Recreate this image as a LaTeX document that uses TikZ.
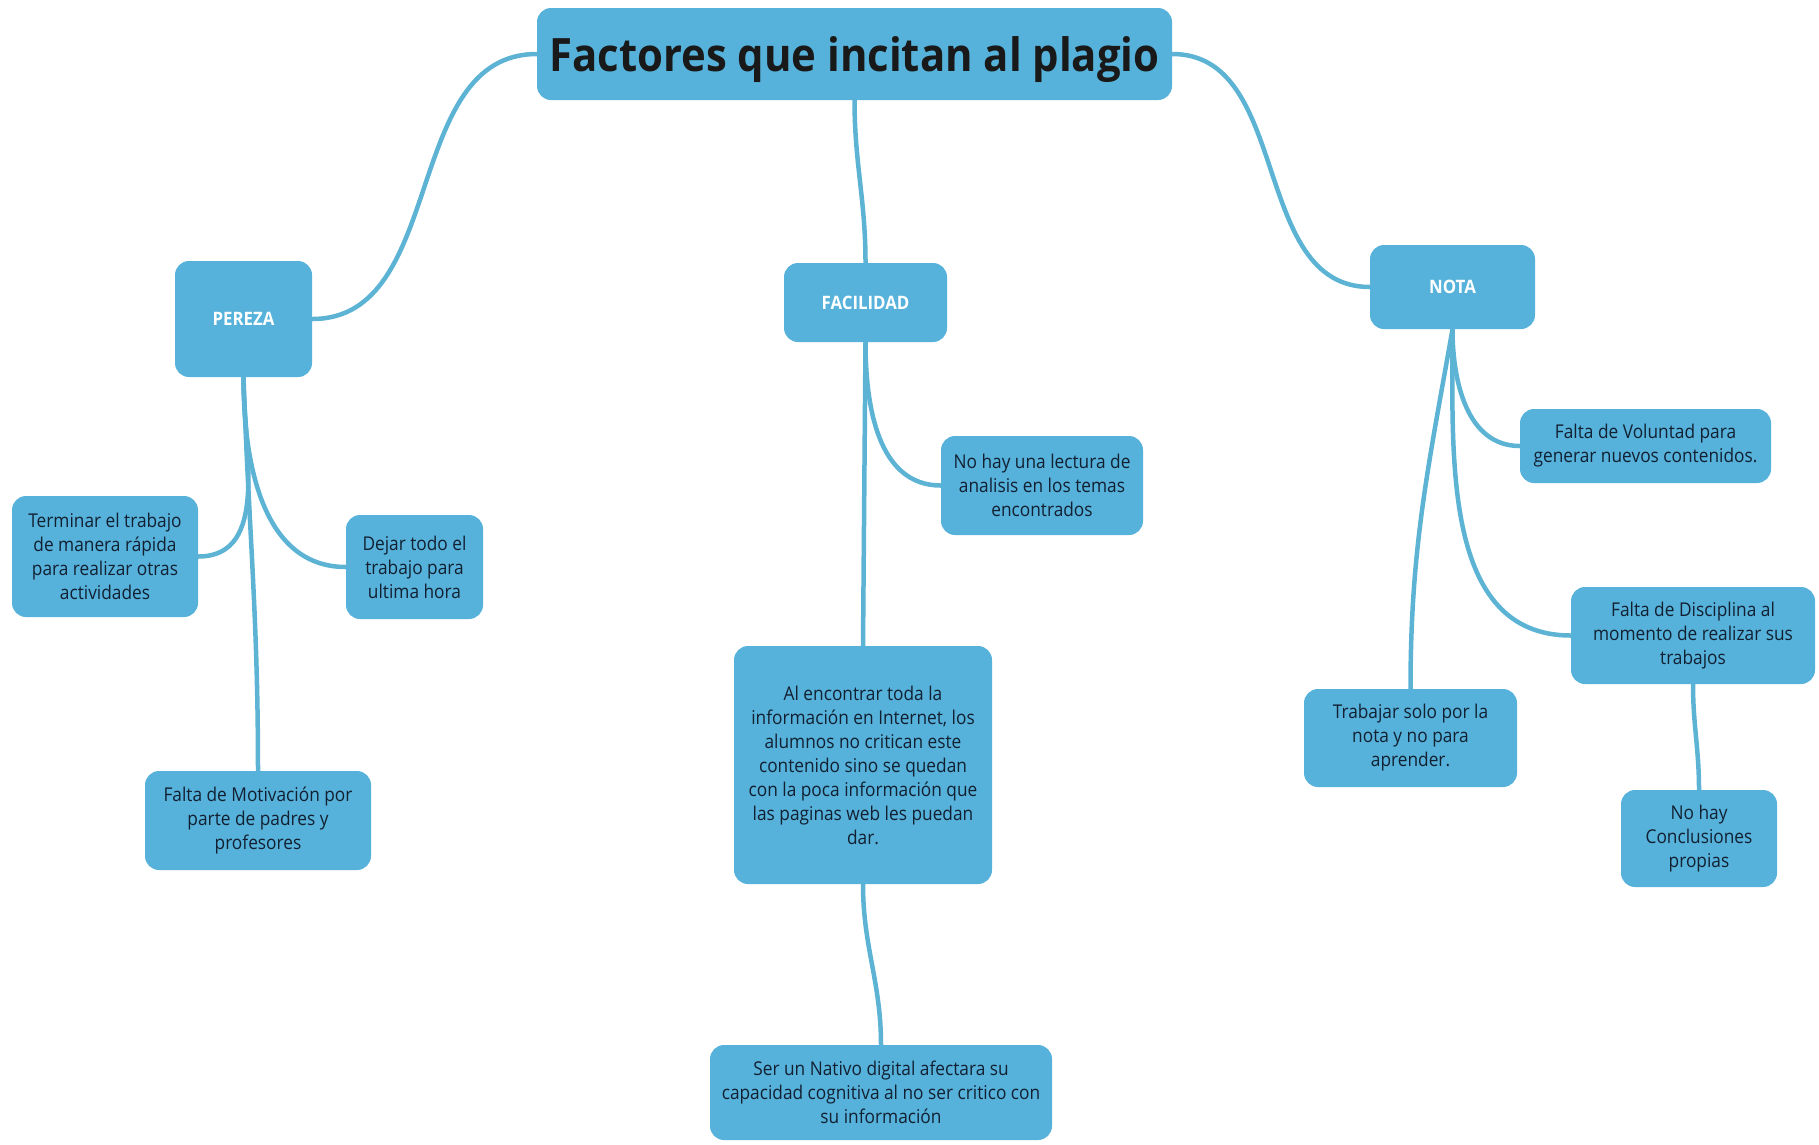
\documentclass[tikz,border=0pt]{standalone}
\usepackage{fontspec}
\setmainfont{Open Sans}[FakeStretch=0.91]
\usepackage{xcolor}
\usepackage{tikz}
\usetikzlibrary{backgrounds}

\definecolor{cajaazul}{RGB}{86,178,218}
\definecolor{lineaazul}{RGB}{92,179,212}
\definecolor{textoazul}{RGB}{18,32,50}

\begin{document}
\begin{tikzpicture}[x=1pt,y=-1pt,
  caja/.style={fill=cajaazul, rounded corners=14pt, align=center, text=textoazul,
    inner sep=0pt, font=\fontsize{19}{24}\selectfont},
  tema/.style={caja, text=white, font=\fontsize{18.5}{22}\selectfont\bfseries},
  rama/.style={draw=lineaazul, line width=4.5pt, line cap=round}]
\useasboundingbox (0,0) rectangle (1819,1144);

\node[caja, minimum width=635pt, minimum height=92pt, text=black!90, text depth=0pt,
  font=\fontsize{46}{50}\selectfont\bfseries] (titulo) at (854.5,54) {Factores que incitan al plagio};

\node[tema, minimum width=137pt, minimum height=116pt] (pereza) at (243.5,319) {PEREZA};
\node[tema, minimum width=163pt, minimum height=79pt] (facilidad) at (865.5,302.5) {FACILIDAD};
\node[tema, minimum width=165pt, minimum height=84pt] (nota) at (1452.5,287) {NOTA};

\node[caja, minimum width=186pt, minimum height=121pt] (terminar) at (105,556.5)
  {Terminar el trabajo\\de manera rápida\\para realizar otras\\actividades};
\node[caja, minimum width=137pt, minimum height=104pt] (dejar) at (414.5,567)
  {Dejar todo el\\trabajo para\\ultima hora};
\node[caja, minimum width=226pt, minimum height=99pt] (motivacion) at (258,820.5)
  {Falta de Motivación por\\parte de padres y\\profesores};

\node[caja, minimum width=202pt, minimum height=99pt] (lectura) at (1042,485.5)
  {No hay una lectura de\\analisis en los temas\\encontrados};
\node[caja, minimum width=258pt, minimum height=238pt] (internet) at (863,765)
  {Al encontrar toda la\\información en Internet, los\\alumnos no critican este\\contenido sino se quedan\\con la poca información que\\las paginas web les puedan\\dar.};
\node[caja, minimum width=342pt, minimum height=95pt] (nativo) at (881,1092.5)
  {Ser un Nativo digital afectara su\\capacidad cognitiva al no ser critico con\\su información};

\node[caja, minimum width=251pt, minimum height=74pt] (voluntad) at (1645.5,446)
  {Falta de Voluntad para\\generar nuevos contenidos.};
\node[caja, minimum width=244pt, minimum height=97pt] (disciplina) at (1693,635.5)
  {Falta de Disciplina al\\momento de realizar sus\\trabajos};
\node[caja, minimum width=213pt, minimum height=98pt] (trabajar) at (1410.5,738)
  {Trabajar solo por la\\nota y no para\\aprender.};
\node[caja, minimum width=156pt, minimum height=97pt] (conclusiones) at (1699,838.5)
  {No hay\\Conclusiones\\propias};

\begin{scope}[on background layer]
\draw[rama] (titulo.west) to[out=180,in=0] (pereza.east);
\draw[rama] (titulo.south) to[out=-90,in=90] (facilidad.north);
\draw[rama] (titulo.east) to[out=0,in=180] (nota.west);

\draw[rama] (pereza.south) to[out=-90,in=0] (terminar.east);
\draw[rama] (pereza.south) to[out=-90,in=180] (dejar.west);
\draw[rama] (pereza.south) to[out=-88,in=90] (motivacion.north);

\draw[rama] (facilidad.south) to[out=-90,in=180] (lectura.west);
\draw[rama] (facilidad.south) -- (internet.north);
\draw[rama] (internet.south) to[out=-90,in=90] (nativo.north);

\draw[rama] (nota.south) to[out=-90,in=180] (voluntad.west);
\draw[rama] (nota.south) to[out=-90,in=180] (disciplina.west);
\draw[rama] (nota.south) to[out=-100,in=90] (trabajar.north);
\draw[rama] (disciplina.south) to[out=-90,in=90] (conclusiones.north);
\end{scope}

\end{tikzpicture}
\end{document}
